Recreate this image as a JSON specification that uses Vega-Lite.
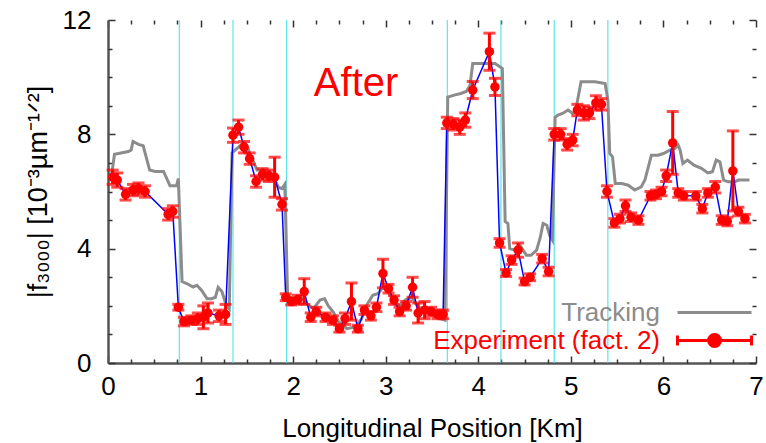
{
  "$schema": "https://vega.github.io/schema/vega-lite/v6.json",
  "width": 648,
  "height": 343,
  "autosize": "none",
  "padding": {"left": 108, "top": 20, "right": 10, "bottom": 80},
  "background": "white",
  "config": {
    "view": {"stroke": null},
    "axis": {
      "labelFont": "Liberation Sans", "labelFontSize": 26, "labelColor": "#000",
      "titleFont": "Liberation Sans", "titleFontSize": 26, "titleFontWeight": "normal", "titleColor": "#000",
      "grid": false, "tickColor": "#333", "tickWidth": 1.5,
      "domainColor": "#555", "domainWidth": 2.5, "labelFlush": false, "labelOverlap": false
    }
  },
  "datasets": {
    "cyan": [{"x": 0.77}, {"x": 1.35}, {"x": 1.93}, {"x": 3.665}, {"x": 4.245}, {"x": 4.82}, {"x": 5.40}],
    "tracking": [
      {"x":0.04,"y":6.6},{"x":0.07,"y":7.3},{"x":0.14,"y":7.35},{"x":0.22,"y":7.4},{"x":0.25,"y":7.45},{"x":0.27,"y":7.75},{"x":0.33,"y":7.65},{"x":0.38,"y":7.6},{"x":0.45,"y":6.75},{"x":0.51,"y":6.7},{"x":0.60,"y":6.7},{"x":0.67,"y":6.2},{"x":0.74,"y":6.2},{"x":0.76,"y":6.45},
      {"x":0.80,"y":2.85},{"x":0.85,"y":2.78},{"x":0.92,"y":2.66},{"x":0.96,"y":2.72},{"x":1.01,"y":2.55},{"x":1.07,"y":2.25},{"x":1.12,"y":2.25},{"x":1.16,"y":2.3},{"x":1.19,"y":2.65},{"x":1.23,"y":2.5},{"x":1.28,"y":2.0},{"x":1.31,"y":1.9},
      {"x":1.34,"y":7.35},{"x":1.41,"y":7.55},{"x":1.46,"y":7.7},{"x":1.50,"y":7.6},{"x":1.55,"y":7.2},{"x":1.61,"y":6.75},{"x":1.68,"y":6.75},{"x":1.78,"y":6.55},{"x":1.84,"y":6.15},{"x":1.88,"y":6.1},{"x":1.91,"y":6.25},
      {"x":1.94,"y":2.35},{"x":2.0,"y":2.25},{"x":2.06,"y":2.3},{"x":2.10,"y":2.25},{"x":2.14,"y":2.08},{"x":2.22,"y":1.9},{"x":2.29,"y":2.2},{"x":2.34,"y":2.25},{"x":2.38,"y":2.0},{"x":2.43,"y":1.8},{"x":2.49,"y":1.45},{"x":2.58,"y":1.2},{"x":2.67,"y":1.26},{"x":2.74,"y":1.55},{"x":2.79,"y":2.0},{"x":2.86,"y":2.37},{"x":2.92,"y":2.43},{"x":2.97,"y":2.66},{"x":3.02,"y":2.55},{"x":3.08,"y":2.2},{"x":3.14,"y":1.96},{"x":3.21,"y":2.2},{"x":3.28,"y":2.3},{"x":3.35,"y":1.96},{"x":3.44,"y":1.85},{"x":3.51,"y":1.67},{"x":3.59,"y":1.55},{"x":3.64,"y":1.5},
      {"x":3.67,"y":9.3},{"x":3.74,"y":9.37},{"x":3.81,"y":9.43},{"x":3.87,"y":9.5},{"x":3.91,"y":9.7},{"x":3.94,"y":10.48},{"x":4.09,"y":10.48},{"x":4.18,"y":10.48},{"x":4.23,"y":10.37},{"x":4.26,"y":10.3},
      {"x":4.29,"y":4.95},{"x":4.32,"y":4.88},{"x":4.34,"y":4.0},{"x":4.40,"y":3.95},{"x":4.45,"y":4.12},{"x":4.52,"y":3.77},{"x":4.57,"y":3.77},{"x":4.63,"y":3.95},{"x":4.67,"y":4.4},{"x":4.70,"y":4.88},{"x":4.74,"y":4.82},{"x":4.77,"y":4.47},{"x":4.80,"y":4.3},
      {"x":4.83,"y":8.6},{"x":4.86,"y":8.67},{"x":4.91,"y":8.73},{"x":4.97,"y":8.85},{"x":5.02,"y":8.73},{"x":5.05,"y":8.8},{"x":5.11,"y":9.84},{"x":5.26,"y":9.84},{"x":5.37,"y":9.78},{"x":5.40,"y":9.2},
      {"x":5.42,"y":7.33},{"x":5.45,"y":7.21},{"x":5.48,"y":6.28},{"x":5.55,"y":6.28},{"x":5.62,"y":6.22},{"x":5.69,"y":6.05},{"x":5.76,"y":6.16},{"x":5.80,"y":6.4},{"x":5.87,"y":7.27},{"x":5.94,"y":7.27},{"x":6.00,"y":7.33},{"x":6.07,"y":7.45},{"x":6.12,"y":7.5},{"x":6.16,"y":7.62},{"x":6.18,"y":7.45},{"x":6.21,"y":6.98},{"x":6.26,"y":7.1},{"x":6.33,"y":6.92},{"x":6.41,"y":6.81},{"x":6.48,"y":6.65},{"x":6.53,"y":6.69},{"x":6.57,"y":7.1},{"x":6.61,"y":7.04},{"x":6.65,"y":6.4},{"x":6.70,"y":6.34},{"x":6.77,"y":6.34},{"x":6.81,"y":6.4},{"x":6.93,"y":6.4}
    ],
    "experiment": [
      {"x":0.05,"y":6.5,"lo":6.25,"hi":6.75},{"x":0.10,"y":6.4,"lo":6.15,"hi":6.65},{"x":0.19,"y":5.9,"lo":5.7,"hi":6.1},{"x":0.27,"y":6.05,"lo":5.85,"hi":6.25},{"x":0.33,"y":6.1,"lo":5.9,"hi":6.3},{"x":0.40,"y":6.0,"lo":5.8,"hi":6.2},{"x":0.65,"y":5.2,"lo":5.0,"hi":5.4},{"x":0.70,"y":5.3,"lo":5.1,"hi":5.5},
      {"x":0.76,"y":1.95,"lo":1.85,"hi":2.05},{"x":0.82,"y":1.45,"lo":1.3,"hi":1.6},{"x":0.90,"y":1.5,"lo":1.35,"hi":1.65},{"x":0.97,"y":1.55,"lo":1.35,"hi":1.75},{"x":1.03,"y":1.6,"lo":1.2,"hi":2.0},{"x":1.08,"y":1.75,"lo":1.4,"hi":2.1},{"x":1.20,"y":1.65,"lo":1.45,"hi":1.85},{"x":1.27,"y":1.7,"lo":1.35,"hi":2.05},
      {"x":1.35,"y":7.97,"lo":7.72,"hi":8.22},{"x":1.41,"y":8.25,"lo":8.0,"hi":8.5},{"x":1.47,"y":7.55,"lo":7.35,"hi":7.75},{"x":1.53,"y":7.15,"lo":6.95,"hi":7.35},{"x":1.60,"y":6.35,"lo":6.15,"hi":6.55},{"x":1.67,"y":6.6,"lo":6.4,"hi":6.8},{"x":1.74,"y":6.55,"lo":6.35,"hi":6.75},{"x":1.80,"y":6.5,"lo":5.8,"hi":7.2},{"x":1.88,"y":5.55,"lo":5.35,"hi":5.75},
      {"x":1.92,"y":2.3,"lo":2.18,"hi":2.42},{"x":1.98,"y":2.15,"lo":2.03,"hi":2.27},{"x":2.05,"y":2.22,"lo":2.07,"hi":2.37},{"x":2.12,"y":2.5,"lo":2.05,"hi":2.95},{"x":2.19,"y":1.6,"lo":1.45,"hi":1.75},{"x":2.25,"y":1.8,"lo":1.65,"hi":1.95},{"x":2.35,"y":1.6,"lo":1.45,"hi":1.75},{"x":2.43,"y":1.5,"lo":1.35,"hi":1.65},{"x":2.50,"y":1.2,"lo":1.08,"hi":1.32},{"x":2.56,"y":1.55,"lo":1.35,"hi":1.75},{"x":2.63,"y":2.15,"lo":1.5,"hi":2.8},{"x":2.70,"y":1.2,"lo":1.08,"hi":1.32},{"x":2.77,"y":1.85,"lo":1.7,"hi":2.0},{"x":2.84,"y":1.65,"lo":1.5,"hi":1.8},{"x":2.90,"y":1.95,"lo":1.8,"hi":2.1},{"x":2.97,"y":3.13,"lo":2.63,"hi":3.63},{"x":3.03,"y":2.6,"lo":2.45,"hi":2.75},{"x":3.09,"y":2.2,"lo":2.05,"hi":2.35},{"x":3.15,"y":1.8,"lo":1.65,"hi":1.95},{"x":3.22,"y":2.0,"lo":1.85,"hi":2.15},{"x":3.29,"y":2.65,"lo":2.3,"hi":3.0},{"x":3.35,"y":1.75,"lo":1.4,"hi":2.1},{"x":3.42,"y":1.85,"lo":1.55,"hi":2.15},{"x":3.49,"y":1.8,"lo":1.65,"hi":1.95},{"x":3.56,"y":1.7,"lo":1.55,"hi":1.85},{"x":3.62,"y":1.7,"lo":1.55,"hi":1.85},
      {"x":3.66,"y":8.4,"lo":8.2,"hi":8.6},{"x":3.73,"y":8.35,"lo":8.15,"hi":8.55},{"x":3.80,"y":8.25,"lo":8.0,"hi":8.5},{"x":3.86,"y":8.5,"lo":8.25,"hi":8.75},{"x":3.94,"y":9.55,"lo":9.25,"hi":9.85},{"x":4.12,"y":10.89,"lo":10.24,"hi":11.54},{"x":4.18,"y":9.66,"lo":9.36,"hi":9.96},
      {"x":4.23,"y":4.2,"lo":4.05,"hi":4.35},{"x":4.30,"y":3.15,"lo":3.03,"hi":3.27},{"x":4.36,"y":3.6,"lo":3.45,"hi":3.75},{"x":4.43,"y":3.95,"lo":3.7,"hi":4.2},{"x":4.50,"y":2.85,"lo":2.73,"hi":2.97},{"x":4.56,"y":3.0,"lo":2.88,"hi":3.12},{"x":4.69,"y":3.65,"lo":3.5,"hi":3.8},{"x":4.76,"y":3.2,"lo":3.05,"hi":3.35},
      {"x":4.82,"y":8.0,"lo":7.8,"hi":8.2},{"x":4.89,"y":8.0,"lo":7.8,"hi":8.2},{"x":4.96,"y":7.65,"lo":7.45,"hi":7.85},{"x":5.02,"y":7.8,"lo":7.6,"hi":8.0},{"x":5.07,"y":8.85,"lo":8.65,"hi":9.05},{"x":5.14,"y":8.75,"lo":8.5,"hi":9.0},{"x":5.20,"y":8.75,"lo":8.55,"hi":8.95},{"x":5.27,"y":9.1,"lo":8.85,"hi":9.35},{"x":5.33,"y":9.05,"lo":8.85,"hi":9.25},
      {"x":5.39,"y":6.0,"lo":5.8,"hi":6.2},{"x":5.47,"y":4.9,"lo":4.75,"hi":5.05},{"x":5.53,"y":5.05,"lo":4.9,"hi":5.2},{"x":5.59,"y":5.5,"lo":5.3,"hi":5.7},{"x":5.65,"y":5.1,"lo":4.95,"hi":5.25},{"x":5.73,"y":5.0,"lo":4.85,"hi":5.15},{"x":5.86,"y":5.85,"lo":5.7,"hi":6.0},{"x":5.92,"y":5.9,"lo":5.75,"hi":6.05},{"x":5.98,"y":6.0,"lo":5.85,"hi":6.15},{"x":6.03,"y":6.55,"lo":6.35,"hi":6.75},{"x":6.10,"y":7.7,"lo":6.6,"hi":8.8},{"x":6.16,"y":5.95,"lo":5.8,"hi":6.1},{"x":6.22,"y":5.85,"lo":5.7,"hi":6.0},{"x":6.35,"y":5.85,"lo":5.7,"hi":6.0},{"x":6.42,"y":5.4,"lo":5.25,"hi":5.55},{"x":6.48,"y":5.95,"lo":5.8,"hi":6.1},{"x":6.56,"y":6.15,"lo":5.95,"hi":6.35},{"x":6.63,"y":5.0,"lo":4.85,"hi":5.15},{"x":6.69,"y":4.95,"lo":4.8,"hi":5.1},{"x":6.75,"y":6.72,"lo":5.32,"hi":8.12},{"x":6.81,"y":5.3,"lo":5.15,"hi":5.45},{"x":6.88,"y":5.05,"lo":4.9,"hi":5.2}
    ]
  },
  "resolve": {"axis": {"x": "independent", "y": "independent"}},
  "layer": [
    {
      "data": {"name": "cyan"},
      "mark": {"type": "rule", "color": "#3fe0e8", "strokeWidth": 1},
      "encoding": {
        "x": {"field": "x", "type": "quantitative", "scale": {"domain": [0, 7], "nice": false, "zero": false},
          "axis": {"orient": "bottom", "values": [0,1,2,3,4,5,6,7], "tickSize": -7, "labelPadding": 17, "title": "Longitudinal Position [Km]", "titlePadding": 16, "domain": true}}
      }
    },
    {
      "data": {"name": "tracking"},
      "transform": [{"calculate": "'Tracking'", "as": "series"}],
      "mark": {"type": "line", "strokeWidth": 3, "strokeJoin": "miter"},
      "encoding": {
        "x": {"field": "x", "type": "quantitative", "scale": {"domain": [0, 7], "nice": false, "zero": false},
          "axis": {"orient": "bottom", "values": [0.25,0.5,0.75,1.25,1.5,1.75,2.25,2.5,2.75,3.25,3.5,3.75,4.25,4.5,4.75,5.25,5.5,5.75,6.25,6.5,6.75], "tickSize": -4, "labels": false, "domain": false, "title": null}},
        "y": {"field": "y", "type": "quantitative", "scale": {"domain": [0, 12], "nice": false, "zero": false},
          "axis": {"orient": "left", "values": [0,4,8,12], "tickSize": -7, "labelPadding": 24, "title": "|f₃₀₀₀| [10⁻³µm⁻¹ᐟ²]", "titleFontSize": 27, "titlePadding": 10, "domain": true}},
        "color": {"field": "series", "type": "nominal",
          "scale": {"domain": ["Tracking", "Experiment (fact. 2)"], "range": ["#8c8c8c", "#ff0000"]},
          "legend": {
            "orient": "none", "legendX": 568, "legendY": 278, "title": null, "padding": 0,
            "labelFont": "Liberation Sans", "labelFontSize": 26, "labelAlign": "right", "labelOffset": -45, "labelLimit": 0,
            "symbolSize": 676, "symbolStrokeWidth": 3, "rowPadding": 0,
            "encode": {
              "symbols": {"update": {
                "shape": {"signal": "datum.value === 'Tracking' ? 'M-1,0L4.69,0' : 'M-1,-0.38L-1,0.38M-1,0L4.69,0M4.69,-0.38L4.69,0.38M1.39,0A0.46,0.46 0 1,1 2.31,0A0.46,0.46 0 1,1 1.39,0Z'"},
                "stroke": {"signal": "datum.value === 'Tracking' ? '#8c8c8c' : '#ff0000'"},
                "fill": {"signal": "datum.value === 'Tracking' ? 'transparent' : '#ff0000'"},
                "strokeWidth": {"value": 3},
                "opacity": {"value": 1}
              }},
              "labels": {"update": {"fill": {"signal": "datum.value === 'Tracking' ? '#8c8c8c' : '#ff0000'"}}}
            }
          }}
      }
    },
    {
      "data": {"name": "experiment"},
      "mark": {"type": "line", "color": "#0000ff", "strokeWidth": 1.5},
      "encoding": {
        "x": {"field": "x", "type": "quantitative", "scale": {"domain": [0, 7], "nice": false, "zero": false},
          "axis": {"orient": "top", "values": [0,1,2,3,4,5,6,7], "tickSize": -7, "labels": false, "domain": false, "title": null}},
        "y": {"field": "y", "type": "quantitative", "scale": {"domain": [0, 12], "nice": false, "zero": false},
          "axis": {"orient": "left", "values": [1,2,3,5,6,7,9,10,11], "tickSize": -4, "labels": false, "domain": false, "title": null}}
      }
    },
    {
      "data": {"name": "experiment"},
      "mark": {"type": "rule", "color": "#ff0000", "strokeWidth": 3},
      "encoding": {
        "x": {"field": "x", "type": "quantitative", "scale": {"domain": [0, 7], "nice": false, "zero": false},
          "axis": {"orient": "top", "values": [0.25,0.5,0.75,1.25,1.5,1.75,2.25,2.5,2.75,3.25,3.5,3.75,4.25,4.5,4.75,5.25,5.5,5.75,6.25,6.5,6.75], "tickSize": -4, "labels": false, "domain": false, "title": null}},
        "y": {"field": "lo", "type": "quantitative", "scale": {"domain": [0, 12], "nice": false, "zero": false},
          "axis": {"orient": "right", "values": [0,4,8,12], "tickSize": -7, "labels": false, "domain": false, "title": null}},
        "y2": {"field": "hi"}
      }
    },
    {
      "data": {"name": "experiment"},
      "mark": {"type": "tick", "orient": "horizontal", "color": "#ff0000", "size": 12, "thickness": 3},
      "encoding": {
        "x": {"field": "x", "type": "quantitative", "scale": {"domain": [0, 7], "nice": false, "zero": false}, "axis": null},
        "y": {"field": "lo", "type": "quantitative", "scale": {"domain": [0, 12], "nice": false, "zero": false},
          "axis": {"orient": "right", "values": [1,2,3,5,6,7,9,10,11], "tickSize": -4, "labels": false, "domain": false, "title": null}}
      }
    },
    {
      "data": {"name": "experiment"},
      "mark": {"type": "tick", "orient": "horizontal", "color": "#ff0000", "size": 12, "thickness": 3},
      "encoding": {
        "x": {"field": "x", "type": "quantitative", "scale": {"domain": [0, 7], "nice": false, "zero": false}, "axis": null},
        "y": {"field": "hi", "type": "quantitative", "scale": {"domain": [0, 12], "nice": false, "zero": false}, "axis": null}
      }
    },
    {
      "data": {"name": "experiment"},
      "transform": [{"calculate": "'Experiment (fact. 2)'", "as": "series"}],
      "mark": {"type": "point", "shape": "circle", "filled": true, "size": 90, "opacity": 1},
      "encoding": {
        "x": {"field": "x", "type": "quantitative", "scale": {"domain": [0, 7], "nice": false, "zero": false}, "axis": null},
        "y": {"field": "y", "type": "quantitative", "scale": {"domain": [0, 12], "nice": false, "zero": false}, "axis": null},
        "color": {"field": "series", "type": "nominal"}
      }
    },
    {
      "data": {"values": [{}]},
      "mark": {"type": "text", "text": "After", "font": "Liberation Sans", "fontSize": 40, "color": "#ff0000", "align": "center", "baseline": "middle"},
      "encoding": {
        "x": {"datum": 2.68, "type": "quantitative", "axis": null},
        "y": {"datum": 9.75, "type": "quantitative", "axis": null}
      }
    }
  ]
}
